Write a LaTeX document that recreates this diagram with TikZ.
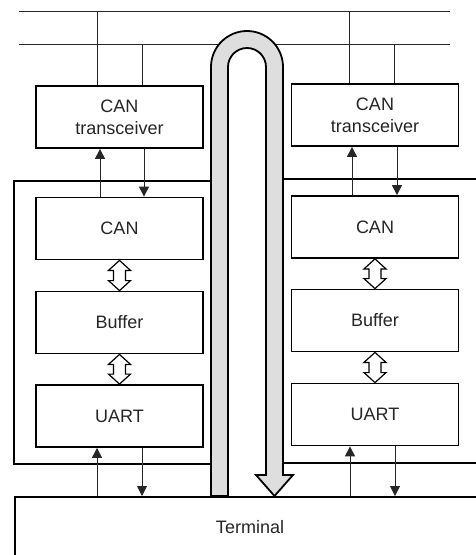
\documentclass[tikz,border=0pt]{standalone}
\usepackage{fontspec}
\setmainfont{Liberation Sans}
\usetikzlibrary{arrows.meta,calc}
\begin{document}
\begin{tikzpicture}[x=1pt,y=-1pt,
  box/.style={draw=black,line width=1.8pt,fill=white,minimum width=167pt,minimum height=62pt,inner sep=0pt,align=center,font=\fontsize{18}{22}\selectfont,text=black!85},
  frame/.style={draw=black,line width=1.8pt},
  conn/.style={draw=black!85,line width=1pt},
  arr/.style={conn,-{Triangle[length=10pt,width=10pt]}},
  hol/.style={draw=black,line width=1.2pt,fill=white,line join=miter},
  tube/.style={draw=black,line width=1.8pt,fill=black!13,line join=miter}]
\useasboundingbox (0,0) rectangle (475,555);
% bus lines
\coordinate (busTl) at (19,11);
\coordinate (busTr) at (450,11);
\coordinate (busBl) at (19,44);
\coordinate (busBr) at (450,44);
\draw[conn] (busTl) -- (busTr);
\draw[conn] (busBl) -- (busBr);
% module frames
\draw[frame] (211,181) -- (14,181) -- (14,464) -- (211,464);
\draw[frame] (480,179) -- (283,179) -- (283,463) -- (480,463);
% terminal
\node[draw=black,line width=1.8pt,fill=white,minimum width=470pt,minimum height=70pt,anchor=north west,inner sep=0pt] (term) at (14,496) {};
\node[font=\fontsize{18}{22}\selectfont,text=black!85] (termtext) at (250,527) {Terminal};
% boxes
\node[box] (ltx) at (119.5,117) {CAN\\transceiver};
\node[box] (rtx) at (375,115) {CAN\\transceiver};
\node[box] (lcan) at (119.5,228.5) {CAN};
\node[box] (lbuf) at (119.5,322.5) {Buffer};
\node[box] (luart) at (119.5,416) {UART};
\node[box] (rcan) at (375,227) {CAN};
\node[box] (rbuf) at (375,320.5) {Buffer};
\node[box] (ruart) at (375,414.5) {UART};
% bus drops
\draw[conn] (97,11) -- (97,0 |- ltx.north);
\draw[conn] (142,44) -- (142,0 |- ltx.north);
\draw[conn] (349,11) -- (349,0 |- rtx.north);
\draw[conn] (394,44) -- (394,0 |- rtx.north);
% transceiver <-> CAN
\draw[arr] (100,0 |- lcan.north) -- (100,0 |- ltx.south);
\draw[arr] (144,0 |- ltx.south) -- (144,0 |- lcan.north);
\draw[arr] (352,0 |- rcan.north) -- (352,0 |- rtx.south);
\draw[arr] (397,0 |- rtx.south) -- (397,0 |- rcan.north);
% UART <-> terminal
\draw[arr] (97,0 |- term.north) -- (97,0 |- luart.south);
\draw[arr] (142,0 |- luart.south) -- (142,0 |- term.north);
\draw[arr] (350,0 |- term.north) -- (350,0 |- ruart.south);
\draw[arr] (395,0 |- ruart.south) -- (395,0 |- term.north);
% hollow double arrows
\foreach \a/\b in {lcan/lbuf,lbuf/luart,rcan/rbuf,rbuf/ruart}{
  \draw[hol] (\a.south) -- ++(-11,10) -- ++(5,0) -- ($(\b.north)+(-6,-10)$) -- ++(-5,0) -- (\b.north) -- ++(11,-10) -- ++(-5,0) -- ($(\a.south)+(6,10)$) -- ++(5,0) -- cycle;
}
% U-shaped tube
\draw[tube] (211,496) -- (211,67) arc[start angle=180,end angle=360,radius=36] -- (283,475) -- (293,475) -- (274.5,496) -- (256,475) -- (266,475) -- (266,67) arc[start angle=0,end angle=-180,radius=19] -- (228,496) -- cycle;
\end{tikzpicture}
\end{document}
